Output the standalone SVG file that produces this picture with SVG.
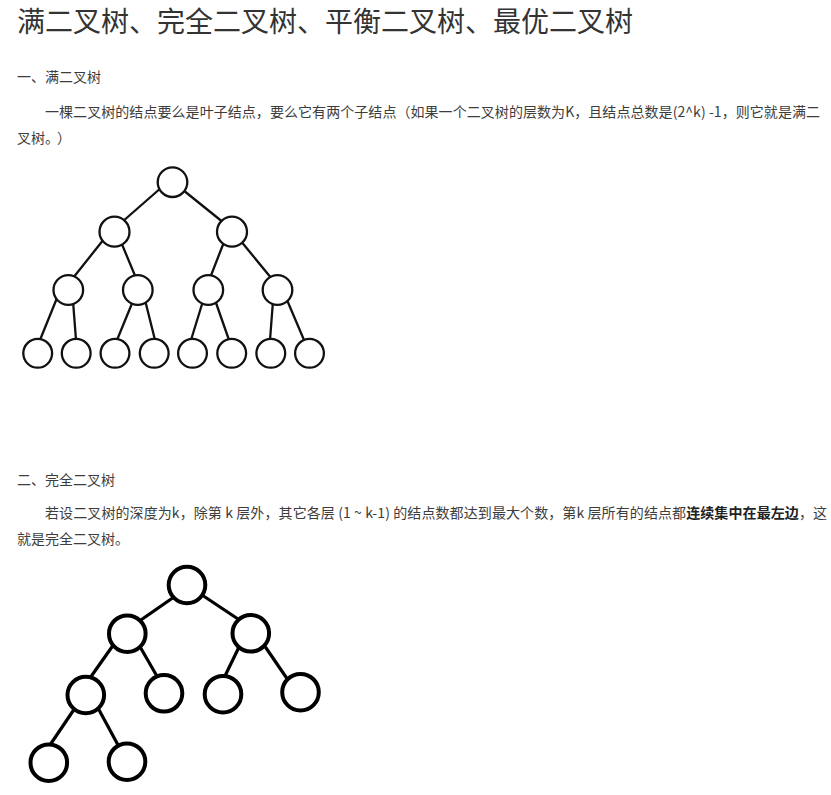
<svg xmlns="http://www.w3.org/2000/svg" width="831" height="795" viewBox="0 0 831 795">
<style>
text{font-family:"Noto Sans CJK SC","Noto Sans",sans-serif;fill:#3d3d3d}
.title{font-size:28px;fill:#333}
.h{font-size:14px}
.p{font-size:14px}
.b{font-weight:bold;fill:#222}
.e1{stroke:#111;stroke-width:2.3;fill:none;stroke-linecap:round}
.n1{stroke:#111;stroke-width:2.3;fill:#fff}
.e2{stroke:#000;stroke-width:3.2;fill:none}
.n2{stroke:#000;stroke-width:4;fill:#fff}
</style>
<rect width="831" height="795" fill="#fff"/>
<text class="title" x="17" y="32">满二叉树、完全二叉树、平衡二叉树、最优二叉树</text>
<text class="h" x="17" y="82">一、满二叉树</text>
<text class="p" x="45" y="117" textLength="775" lengthAdjust="spacing">一棵二叉树的结点要么是叶子结点，要么它有两个子结点（如果一个二叉树的层数为K，且结点总数是(2^k) -1，则它就是满二</text>
<text class="p" x="17 31 45 57" y="143">叉树。）</text>
<text class="h" x="17" y="485">二、完全二叉树</text>
<text class="p" x="45" y="518" textLength="782" lengthAdjust="spacing">若设二叉树的深度为k，除第 k 层外，其它各层 (1 ~ k-1) 的结点数都达到最大个数，第k 层所有的结点都<tspan class="b">连续集中在最左边</tspan>，这</text>
<text class="p" x="17" y="544">就是完全二叉树。</text>

<g id="connectors">
<g id="tree1-edges">
<line class="e1" x1="162" y1="187" x2="122" y2="222"/>
<line class="e1" x1="183" y1="190" x2="224" y2="223"/>
<line class="e1" x1="104" y1="239" x2="73" y2="278"/>
<line class="e1" x1="121" y1="242" x2="136" y2="278"/>
<line class="e1" x1="224" y1="242" x2="210" y2="278"/>
<line class="e1" x1="240" y1="240" x2="272" y2="279"/>
<line class="e1" x1="57" y1="298" x2="40" y2="340"/>
<line class="e1" x1="73" y1="301" x2="76" y2="340"/>
<line class="e1" x1="133" y1="301" x2="117" y2="340"/>
<line class="e1" x1="145" y1="300" x2="155" y2="340"/>
<line class="e1" x1="203" y1="301" x2="191" y2="340"/>
<line class="e1" x1="215" y1="300" x2="229" y2="340"/>
<line class="e1" x1="273" y1="301" x2="270" y2="340"/>
<line class="e1" x1="287" y1="300" x2="304" y2="340"/>
</g>
<g id="tree2-edges">
<line class="e2" x1="174" y1="597" x2="138" y2="622"/>
<line class="e2" x1="202" y1="595" x2="241" y2="621"/>
<line class="e2" x1="114" y1="644" x2="90" y2="678"/>
<line class="e2" x1="139" y1="645" x2="158" y2="678"/>
<line class="e2" x1="240" y1="645" x2="224" y2="678"/>
<line class="e2" x1="264" y1="645" x2="288" y2="680"/>
<line class="e2" x1="75" y1="708" x2="50" y2="745"/>
<line class="e2" x1="98" y1="708" x2="118" y2="745"/>
</g>
</g>

<g id="t1-root"><circle class="n1" cx="172.5" cy="182.2" r="14.8"/></g>
<g id="t1-l"><circle class="n1" cx="114.5" cy="231.7" r="15"/></g>
<g id="t1-r"><circle class="n1" cx="232" cy="231.7" r="15"/></g>
<g id="t1-ll"><circle class="n1" cx="68.3" cy="290" r="14.8"/></g>
<g id="t1-lr"><circle class="n1" cx="137.8" cy="290" r="14.8"/></g>
<g id="t1-rl"><circle class="n1" cx="208.3" cy="290" r="14.8"/></g>
<g id="t1-rr"><circle class="n1" cx="277.5" cy="290" r="14.8"/></g>
<g id="t1-leaf1"><circle class="n1" cx="37.7" cy="353.3" r="14.4"/></g>
<g id="t1-leaf2"><circle class="n1" cx="76.2" cy="353.3" r="14.4"/></g>
<g id="t1-leaf3"><circle class="n1" cx="115" cy="353.3" r="14.4"/></g>
<g id="t1-leaf4"><circle class="n1" cx="154.2" cy="353.3" r="14.4"/></g>
<g id="t1-leaf5"><circle class="n1" cx="192.5" cy="353.3" r="14.4"/></g>
<g id="t1-leaf6"><circle class="n1" cx="231.7" cy="353.3" r="14.4"/></g>
<g id="t1-leaf7"><circle class="n1" cx="270.8" cy="353.3" r="14.4"/></g>
<g id="t1-leaf8"><circle class="n1" cx="309.5" cy="353.3" r="14.4"/></g>

<g id="t2-root"><circle class="n2" cx="187" cy="585" r="18.3"/></g>
<g id="t2-l"><circle class="n2" cx="127.3" cy="633.7" r="18.3"/></g>
<g id="t2-r"><circle class="n2" cx="250.8" cy="633.3" r="18.3"/></g>
<g id="t2-ll"><circle class="n2" cx="85.8" cy="695" r="18.3"/></g>
<g id="t2-lr"><circle class="n2" cx="164" cy="693.3" r="18.3"/></g>
<g id="t2-rl"><circle class="n2" cx="223" cy="694.2" r="18.3"/></g>
<g id="t2-rr"><circle class="n2" cx="300.5" cy="692.2" r="18.3"/></g>
<g id="t2-lll"><circle class="n2" cx="48.8" cy="762.7" r="18.3"/></g>
<g id="t2-llr"><circle class="n2" cx="127" cy="761.7" r="18.3"/></g>
</svg>
